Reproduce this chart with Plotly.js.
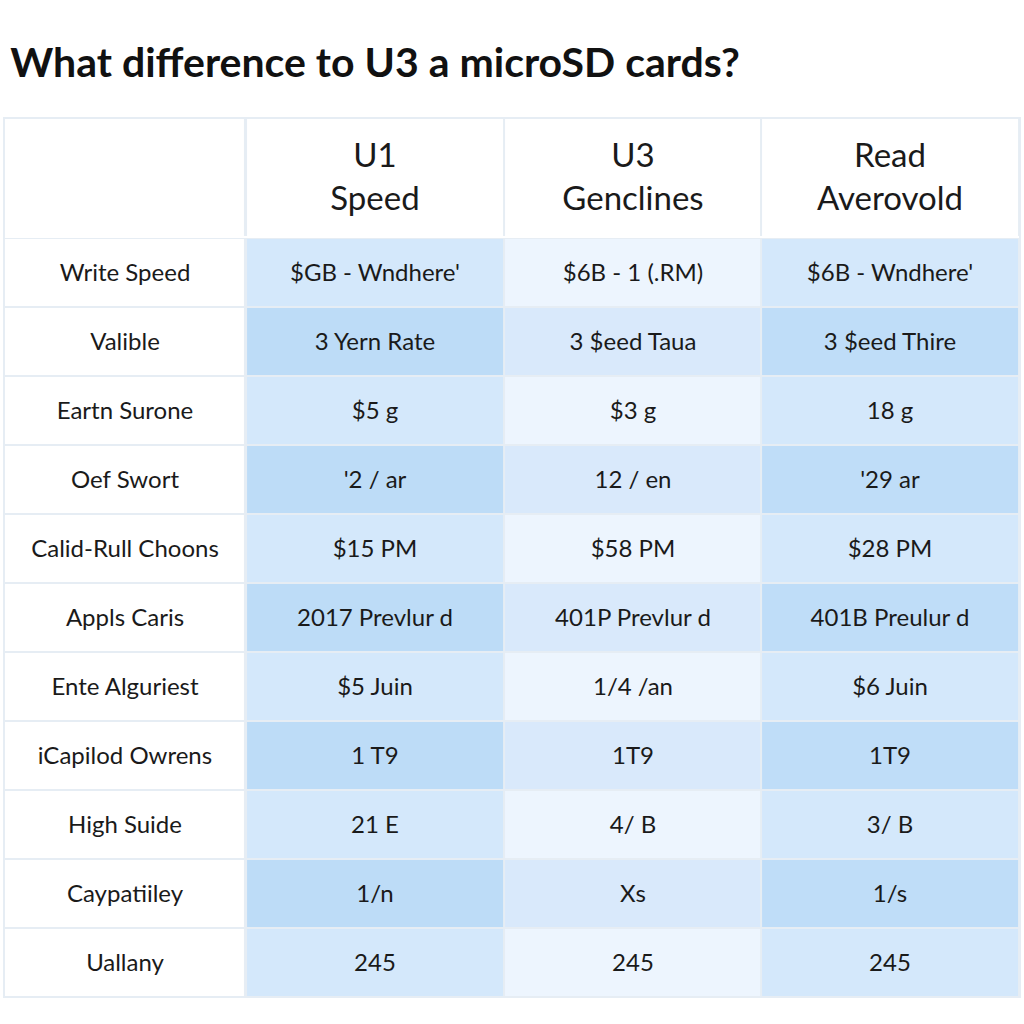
<!DOCTYPE html>
<html>
<head>
<meta charset="utf-8">
<script src="https://cdn.plot.ly/plotly-3.0.1.min.js"></script>
<style>html,body{margin:0;padding:0;background:#fff;}#chart{width:1024px;height:1024px;}</style>
</head>
<body>
<div id="chart"></div>
<script>
const valueColumns = ["U1", "U3", "Read"];
const headerLabels = ["U1<br>Speed", "U3<br>Genclines", "Read<br>Averovold"];
const rowLabels = ["Write Speed", "Valible", "Eartn Surone", "Oef Swort", "Calid-Rull Choons", "Appls Caris", "Ente Alguriest", "iCapilod Owrens", "High Suide", "Caypatiiley", "Uallany"];
const u1Values = ["$GB - Wndhere'", "3 Yern Rate", "$5 g", "'2 / ar", "$15 PM", "2017 Prevlur d", "$5 Juin", "1 T9", "21 E", "1/n", "245"];
const u3Values = ["$6B - 1 (.RM)", "3 $eed Taua", "$3 g", "12 / en", "$58 PM", "401P Prevlur d", "1/4 /an", "1T9", "4/ B", "Xs", "245"];
const readValues = ["$6B - Wndhere'", "3 $eed Thire", "18 g", "'29 ar", "$28 PM", "401B Preulur d", "$6 Juin", "1T9", "3/ B", "1/s", "245"];

// colour codes: 0 white, 1/2 U1 light/dark, 3/4 U3 light/dark, 5/6 Read light/dark
const palette = ["#ffffff", "#d4e8fb", "#bddcf7", "#edf5fe", "#d9e9fb", "#d4e8fb", "#bfddf8"];
const colorscale = palette.map((c, i) => [i / (palette.length - 1), c]);

const bodyZ = rowLabels.map((_, i) => {
  const alt = i % 2;
  return [1 + alt, 3 + alt, 5 + alt];
});
const bodyText = rowLabels.map((r, i) => [u1Values[i], u3Values[i], readValues[i]]);

const fontFamily = "Lato, 'Open Sans', sans-serif";
const textColor = "#1a1a1a";
const common = {
  type: "heatmap", colorscale: colorscale, zmin: 0, zmax: palette.length - 1,
  showscale: false, hoverinfo: "skip", texttemplate: "%{text}"
};

const headerBlank = Object.assign({}, common, {
  x: ["label"], y: ["header"], z: [[0]], text: [[""]],
  textfont: {family: fontFamily, size: 33, color: textColor},
  xaxis: "x", yaxis: "y2"
});
const headerValues = Object.assign({}, common, {
  x: valueColumns, y: ["header"], z: [[0, 0, 0]], text: [headerLabels],
  textfont: {family: fontFamily, size: 33, color: textColor},
  xgap: 2, xaxis: "x2", yaxis: "y2"
});
const bodyLabels = Object.assign({}, common, {
  x: ["label"], y: rowLabels, z: rowLabels.map(() => [0]), text: rowLabels.map(r => [r]),
  textfont: {family: fontFamily, size: 24, color: textColor},
  ygap: 2, xaxis: "x", yaxis: "y"
});
const bodyValues = Object.assign({}, common, {
  x: valueColumns, y: rowLabels, z: bodyZ, text: bodyText,
  textfont: {family: fontFamily, size: 24, color: textColor},
  xgap: 2, ygap: 2, xaxis: "x2", yaxis: "y"
});

const hiddenAxis = {showticklabels: false, showgrid: false, zeroline: false, ticks: "", showline: false, fixedrange: true};
const split = 0.2372;

const layout = {
  width: 1024, height: 1024,
  margin: {l: 4, r: 4, t: 118, b: 27},
  paper_bgcolor: "#ffffff",
  plot_bgcolor: "#e6edf4",
  title: {
    text: "<b>What difference to U3 a microSD cards?</b>",
    x: 0.01, xanchor: "left", y: 0.939, yanchor: "middle",
    font: {family: "Lato, sans-serif", size: 41, color: "#111111"}
  },
  xaxis: Object.assign({}, hiddenAxis, {type: "category", domain: [0, split], range: [-0.504, 0.504], anchor: "y"}),
  xaxis2: Object.assign({}, hiddenAxis, {type: "category", domain: [split, 1], range: [-0.504, 2.504], anchor: "y"}),
  yaxis: Object.assign({}, hiddenAxis, {type: "category", autorange: "reversed", domain: [0, 0.8635], anchor: "x"}),
  yaxis2: Object.assign({}, hiddenAxis, {type: "category", domain: [0.8658, 1], anchor: "x"}),
  shapes: [{
    type: "rect", xref: "paper", yref: "paper", x0: 0, x1: 1, y0: 0, y1: 1,
    line: {color: "#e6edf4", width: 2}, fillcolor: "rgba(0,0,0,0)"
  }]
};

Plotly.newPlot("chart", [headerBlank, headerValues, bodyLabels, bodyValues], layout, {displayModeBar: false, staticPlot: true});
</script>
</body>
</html>
